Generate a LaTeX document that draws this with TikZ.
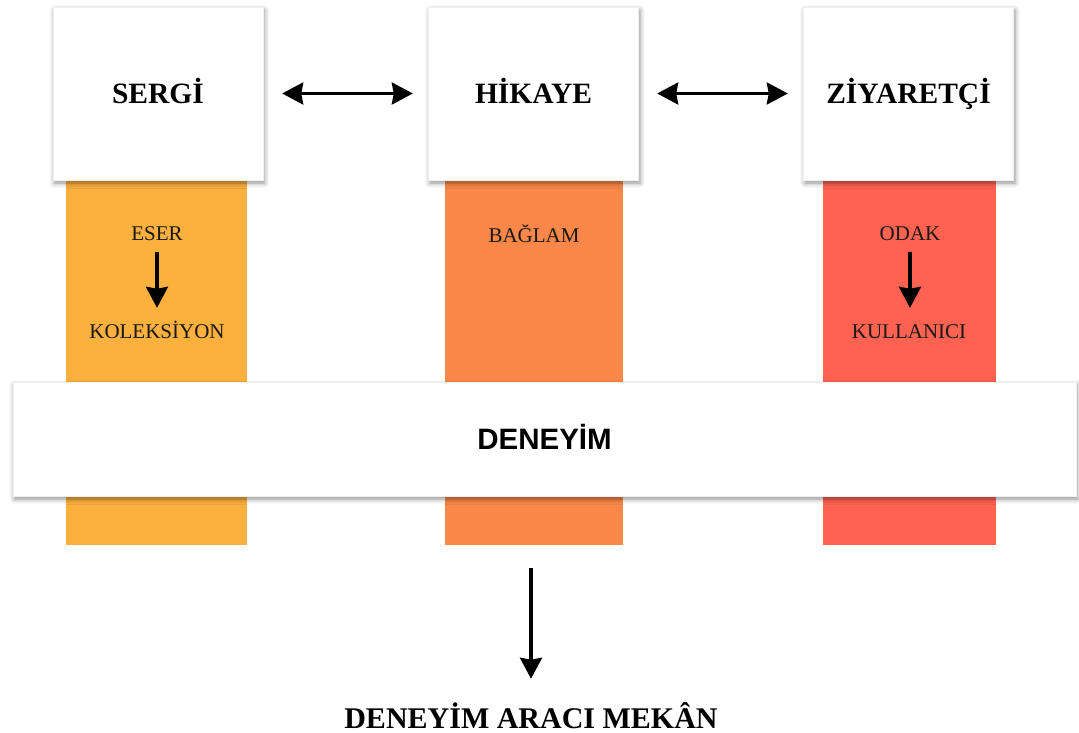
\documentclass[tikz,border=0pt]{standalone}
\usepackage{fontspec}
\setmainfont{Liberation Serif}
\newfontfamily\labelsans{Liberation Sans}
\usetikzlibrary{arrows.meta,shadows.blur}

\definecolor{barA}{RGB}{252,176,62}
\definecolor{barB}{RGB}{251,136,72}
\definecolor{barC}{RGB}{255,98,81}

\tikzset{
  softshadow/.style={blur shadow={shadow xshift=1.5pt, shadow yshift=-3pt,
      shadow blur radius=5pt, shadow opacity=45}},
  topbox/.style={fill=white, draw=black!6, line width=0.4pt,
      minimum width=210pt, minimum height=173pt, inner sep=0pt, softshadow,
      text height=20.5pt, text depth=0pt,
      font=\fontsize{29.5}{34}\selectfont\bfseries},
  bar/.style={inner sep=0pt, minimum height=365pt},
  bartext/.style={inner sep=0pt, text height=14pt, text depth=0pt,
      font=\fontsize{21}{25}\selectfont, text=black!90},
  widebox/.style={fill=white, draw=black!6, line width=0.4pt,
      minimum width=1063pt, minimum height=114pt, inner sep=0pt, softshadow,
      text height=21pt, text depth=0pt,
      font=\labelsans\fontsize{29.5}{34}\selectfont\bfseries},
  tip/.tip={Stealth[length=21pt,width=22pt,inset=2pt]},
  link/.style={line width=3.2pt, tip-tip},
  down/.style={line width=3.2pt, -tip},
}

\begin{document}
\begin{tikzpicture}[x=1pt, y=-1pt]
  \useasboundingbox (0,0) rectangle (1079,733);

  % coloured columns
  \node[bar, fill=barA, minimum width=181pt] (colS) at (156.5,362.5) {};
  \node[bar, fill=barB, minimum width=178pt] (colH) at (534,362.5) {};
  \node[bar, fill=barC, minimum width=173pt] (colZ) at (909.5,362.5) {};

  % column labels
  \node[bartext] (eser) at (157,233) {ESER};
  \node[bartext] (kol) at (157,331) {KOLEKSİYON};
  \node[bartext] (baglam) at (534,235) {BAĞLAM};
  \node[bartext] (odak) at (910,233) {ODAK};
  \node[bartext] (kul) at (909,331) {KULLANICI};

  \draw[down, shorten <=12pt, shorten >=16pt] (eser.south) -- (eser.south |- kol.north);
  \draw[down, shorten <=12pt, shorten >=16pt] (odak.south) -- (odak.south |- kul.north);

  % head boxes
  \node[topbox] (sergi) at (158,93.5) {SERGİ};
  \node[topbox] (hikaye) at (533.5,93.5) {HİKAYE};
  \node[topbox] (ziyaret) at (908.5,93.5) {ZİYARETÇİ};

  \draw[link, shorten <=19pt, shorten >=15.5pt] (sergi.east) -- (hikaye.west);
  \draw[link, shorten <=18.5pt, shorten >=15.5pt] (hikaye.east) -- (ziyaret.west);

  % experience band
  \node[widebox] (deneyim) at (544.5,439) {DENEYİM};

  % outcome
  \node[anchor=base, inner sep=0pt, font=\fontsize{30}{34}\selectfont\bfseries]
    (mekan) at (531,728) {DENEYİM ARACI MEKÂN};
  \draw[down, shorten <=72pt, shorten >=23pt] (deneyim.south -| mekan.north) -- (mekan.north);
\end{tikzpicture}
\end{document}
